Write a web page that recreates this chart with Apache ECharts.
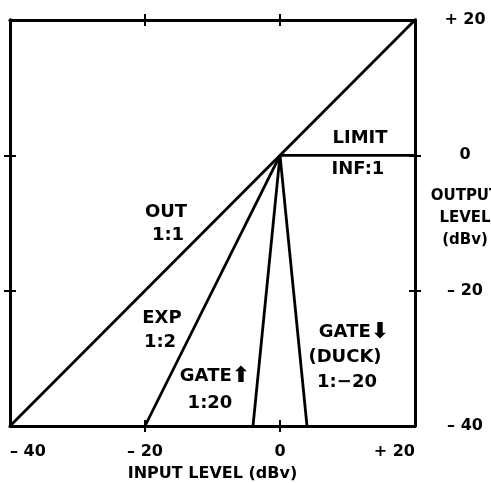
<!DOCTYPE html>
<html>
<head>
<meta charset="utf-8">
<script src="https://cdn.jsdelivr.net/npm/echarts@6/dist/echarts.min.js"></script>
<style>
  html, body { margin: 0; padding: 0; background: #fff; }
  #chart { width: 491px; height: 483px; }
</style>
</head>
<body>
<div id="chart"></div>
<script>
// Transfer curves of a dynamics processor: input level vs output level (dBv)
const xTicks = [-40, -20, 0, 20];
const xTickLabels = ['– 40', '– 20', '0', '+ 20'];
const yTicks = [-40, -20, 0, 20];
const yTickLabels = ['– 40', '– 20', '0', '+ 20'];

// Each curve as [input, output] end points
const out11 = [[-40, -40], [20, 20]];
const limitInf = [[0, 0], [20, 0]];
const exp12 = [[-20, -40], [0, 0]];
const gateUp = [[-4, -40], [0, 0]];
const gateDown = [[4, -40], [0, 0]];

const FONT = '"DejaVu Sans", "Liberation Sans", sans-serif';
const INK = '#000';
const LW = 2.8;

function lookup(ticks, labels) {
  return v => {
    const i = ticks.indexOf(v);
    return i >= 0 ? labels[i] : '';
  };
}

const lineStyleAxis = { show: true, onZero: false, lineStyle: { color: INK, width: LW } };
const tickOut = { show: true, inside: false, length: 6, customValues: [-20, 0], lineStyle: { color: INK, width: 2 } };
const tickIn = { show: true, inside: true, length: 6, customValues: [-20, 0], lineStyle: { color: INK, width: 2 } };

function xAx(pos, tick, withLabels) {
  return {
    type: 'value', position: pos, min: -40, max: 20, interval: 20,
    axisLine: lineStyleAxis, axisTick: tick, splitLine: { show: false },
    axisLabel: withLabels ? {
      show: true, margin: 18, color: INK, fontFamily: FONT, fontWeight: 'bold', fontSize: 16,
      alignMinLabel: 'left', alignMaxLabel: 'right',
      formatter: lookup(xTicks, xTickLabels)
    } : { show: false },
    name: withLabels ? 'INPUT LEVEL (dBv)' : '',
    nameLocation: 'middle', nameGap: 40,
    nameTextStyle: { color: INK, fontFamily: FONT, fontWeight: 'bold', fontSize: 16 }
  };
}

function yAx(pos, tick, withLabels) {
  return {
    type: 'value', position: pos, min: -40, max: 20, interval: 20,
    axisLine: lineStyleAxis, axisTick: tick, splitLine: { show: false },
    axisLabel: withLabels ? {
      show: true, margin: 50, align: 'center', color: INK, fontFamily: FONT, fontWeight: 'bold', fontSize: 16,
      formatter: lookup(yTicks, yTickLabels)
    } : { show: false }
  };
}

function curve(name, data) {
  return {
    name, type: 'line', data, xAxisIndex: 0, yAxisIndex: 0,
    symbol: 'none', silent: true,
    lineStyle: { color: INK, width: LW }
  };
}

function note(text, x, y) {
  return {
    type: 'text', x, y, silent: true,
    style: {
      text, fill: INK, font: 'bold 18px ' + FONT,
      align: 'center', verticalAlign: 'middle',
      rich: { arrow: { fontSize: 22, fontWeight: 'bold', fontFamily: FONT, fill: INK } }
    }
  };
}

const chart = echarts.init(document.getElementById('chart'), null, { renderer: 'canvas' });
chart.setOption({
  animation: false,
  backgroundColor: '#fff',
  grid: { left: 10, right: 76, top: 20, bottom: 57, containLabel: false, outerBoundsMode: 'none' },
  xAxis: [
    xAx('bottom', tickOut, true),
    xAx('bottom', tickIn, false),
    xAx('top', tickOut, false),
    xAx('top', tickIn, false)
  ],
  yAxis: [
    yAx('right', tickOut, true),
    yAx('right', tickIn, false),
    yAx('left', tickOut, false),
    yAx('left', tickIn, false)
  ],
  series: [
    curve('OUT 1:1', out11),
    curve('LIMIT INF:1', limitInf),
    curve('EXP 1:2', exp12),
    curve('GATE up 1:20', gateUp),
    curve('GATE down 1:-20', gateDown)
  ],
  graphic: [
    note('LIMIT', 360, 138),
    note('INF:1', 358, 169),
    note('OUT', 166, 212),
    note('1:1', 168, 235),
    note('EXP', 162, 318),
    note('1:2', 160, 342),
    note('GATE{arrow|⬆}', 215, 376),
    note('1:20', 210, 403),
    note('GATE{arrow|⬇}', 354, 332),
    note('(DUCK)', 345, 357),
    note('1:−20', 347, 382),
    {
      type: 'text', x: 465, y: 218, silent: true,
      style: {
        text: 'OUTPUT\nLEVEL\n(dBv)', fill: INK, font: 'bold 15px ' + FONT,
        align: 'center', verticalAlign: 'middle', lineHeight: 22
      }
    }
  ]
});
</script>
</body>
</html>
